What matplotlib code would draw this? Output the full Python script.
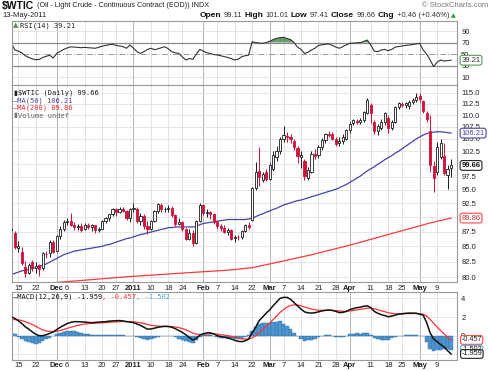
import numpy as np
import pandas as pd
import matplotlib
matplotlib.use('Agg')
import matplotlib.pyplot as plt
import matplotlib.transforms as mtransforms
from matplotlib.ticker import FixedLocator, FixedFormatter, NullLocator

W, H = 489, 371
FONT = ['Liberation Sans', 'DejaVu Sans']
MONO = ['DejaVu Sans Mono', 'DejaVu Sans']
plt.rcParams['font.family'] = FONT

# ---------------- data ----------------
holidays = ['2010-11-25', '2010-12-24', '2011-01-17', '2011-02-21', '2011-04-22']
dates = pd.bdate_range('2010-11-11', '2011-05-13')
dates = dates[~dates.isin(pd.to_datetime(holidays))]

opens = [87.9, 87.2,
         84.8, 84.0, 81.6, 80.7, 82.4,
         81.4, 81.9, 81.4, 83.8,
         83.9, 85.7, 84.2, 86.8, 88.0,
         89.2, 89.4, 88.7, 88.3, 88.4,
         87.9, 88.6, 88.3, 88.6, 87.7,
         88.0, 89.4, 89.8, 90.5,
         91.5, 91.0, 91.5, 91.1, 89.8,
         91.4, 91.5, 89.4, 90.2, 88.4,
         88.0, 89.3, 91.1, 92.2, 91.4,
         91.5, 91.6, 90.4, 88.9,
         89.1, 87.9, 86.2, 87.3, 85.6,
         89.3, 92.2, 90.8, 90.9, 90.5,
         89.2, 88.4, 88.2, 87.5, 87.8,
         86.4, 86.6, 86.5, 87.6, 88.6,
         89.5, 95.4, 98.6, 96.8,
         98.3, 97.1, 99.0, 101.3, 102.6,
         105.0, 105.6, 105.3, 104.6, 103.2,
         101.4, 100.6, 97.3, 98.4, 101.9,
         101.8, 103.3, 104.7, 106.0, 106.0,
         105.0, 104.1, 104.6, 105.0, 106.8,
         108.3, 108.7, 108.6, 109.0, 110.6,
         112.3, 108.6, 106.6, 107.3, 108.6,
         109.5, 107.2, 108.6, 111.9,
         112.5, 112.2, 112.0, 112.9, 113.4,
         114.3, 113.2, 110.6, 106.6, 99.6,
         98.4, 101.3, 101.6, 97.8, 99.11]
highs = [88.6, 87.6,
         85.9, 84.9, 82.6, 82.3, 82.8,
         82.4, 82.1, 84.1, 84.3,
         86.0, 86.1, 87.0, 88.4, 89.5,
         89.9, 90.8, 89.1, 88.9, 89.0,
         89.0, 89.0, 88.9, 88.7, 88.3,
         89.5, 90.0, 90.6, 91.6,
         91.6, 91.9, 91.9, 91.3, 91.6,
         92.6, 91.9, 90.8, 90.5, 89.4,
         89.6, 91.3, 92.6, 92.5, 91.9,
         92.2, 92.0, 90.6, 89.9,
         89.4, 88.2, 87.9, 87.8, 89.5,
         92.6, 92.4, 91.4, 91.2, 90.8,
         89.6, 88.9, 88.6, 88.1, 88.0,
         87.0, 87.0, 87.8, 88.9, 89.2,
         95.6, 100.3, 103.4, 98.4,
         99.0, 100.2, 102.5, 103.6, 105.4,
         107.6, 106.4, 106.0, 105.0, 103.6,
         102.6, 101.0, 99.3, 102.6, 103.0,
         103.7, 105.1, 106.3, 106.7, 106.4,
         105.4, 105.3, 106.0, 107.0, 108.6,
         109.1, 109.2, 109.4, 111.0, 113.9,
         112.7, 109.0, 108.1, 109.1, 110.8,
         110.0, 108.9, 112.1, 112.9,
         113.0, 113.0, 113.4, 113.8, 115.0,
         114.9, 113.4, 111.0, 110.0, 100.5,
         104.4, 105.0, 104.2, 99.7, 101.01]
lows = [86.9, 84.5,
        84.1, 81.9, 80.1, 80.5, 80.9,
        80.6, 80.2, 81.2, 83.0,
        83.3, 83.9, 84.1, 86.3, 87.6,
        88.7, 88.4, 87.7, 87.7, 87.5,
        87.7, 87.9, 87.6, 87.2, 87.4,
        87.9, 89.0, 89.4, 90.2,
        90.3, 90.7, 90.9, 89.6, 89.2,
        91.0, 89.0, 88.7, 87.9, 87.1,
        87.7, 89.1, 90.8, 91.0, 90.9,
        90.9, 90.0, 88.5, 88.6,
        87.6, 86.0, 86.0, 85.1, 85.4,
        89.1, 90.4, 90.1, 89.7, 88.9,
        88.0, 87.6, 87.2, 87.0, 86.0,
        85.8, 86.0, 86.3, 87.4, 87.9,
        89.3, 95.0, 95.8, 96.4,
        96.7, 96.9, 98.6, 100.6, 102.0,
        104.4, 104.3, 104.2, 102.8, 100.2,
        99.2, 96.9, 96.9, 98.2, 101.0,
        101.2, 102.8, 104.2, 105.4, 104.7,
        103.6, 103.5, 104.0, 104.8, 106.2,
        107.9, 108.1, 108.2, 108.6, 110.3,
        108.4, 106.1, 105.9, 106.8, 108.0,
        106.3, 106.8, 108.3, 111.4,
        111.7, 111.6, 111.4, 112.4, 113.0,
        112.9, 110.6, 108.6, 98.3, 94.6,
        97.8, 100.9, 97.9, 95.1, 97.41]
closes = [87.8, 84.9,
          85.0, 82.3, 80.6, 81.9, 81.5,
          81.7, 81.3, 83.9, 83.7,
          85.7, 84.1, 86.8, 88.0, 89.2,
          89.4, 88.7, 88.3, 88.4, 87.8,
          88.6, 88.3, 88.6, 87.7, 88.0,
          89.4, 89.8, 90.5, 91.5,
          91.0, 91.5, 91.1, 89.8, 91.4,
          91.6, 89.4, 90.3, 88.4, 88.0,
          89.3, 91.1, 92.3, 91.4, 91.5,
          91.6, 90.4, 88.9, 89.1,
          87.9, 86.2, 87.3, 85.6, 89.3,
          92.2, 90.8, 90.9, 90.5, 89.2,
          88.4, 88.2, 87.5, 87.8, 86.3,
          86.6, 86.5, 87.6, 88.6, 88.3,
          95.3, 98.4, 97.4, 98.0,
          97.1, 99.8, 101.8, 102.6, 105.0,
          105.8, 105.3, 105.0, 103.3, 101.6,
          101.7, 97.7, 98.8, 102.0, 101.5,
          103.3, 104.7, 106.0, 105.9, 105.0,
          104.0, 104.6, 105.3, 106.8, 108.2,
          108.9, 108.6, 109.0, 110.8, 113.3,
          110.4, 106.6, 107.7, 108.6, 110.4,
          107.3, 108.6, 111.8, 112.6,
          112.3, 112.6, 113.0, 113.4, 114.1,
          113.6, 111.0, 109.1, 99.8, 97.2,
          103.4, 104.1, 98.2, 99.0, 99.66]

ma50 = [80.4, 80.6, 80.8, 81.0, 81.1, 81.2, 81.4, 81.5, 81.7, 81.9, 82.1, 82.4, 82.7,
        83.0, 83.3, 83.6, 83.8, 84.0, 84.2, 84.3, 84.4, 84.5, 84.6, 84.7, 84.8, 84.9,
        85.0, 85.2, 85.3, 85.5, 85.7, 85.9, 86.1, 86.3, 86.4,
        86.6, 86.8, 87.0, 87.1, 87.3, 87.4, 87.6, 87.7, 87.9, 88.0,
        88.2, 88.2, 88.3, 88.3, 88.3, 88.3, 88.3, 88.3, 88.4,
        88.7, 88.9, 89.0, 89.1, 89.2, 89.3, 89.4, 89.5, 89.6, 89.6,
        89.6, 89.6, 89.6, 89.6, 89.7, 89.8, 90.1, 90.4, 90.6,
        90.9, 91.1, 91.4, 91.6, 91.9, 92.2, 92.4, 92.6, 92.8, 93.0,
        93.1, 93.3, 93.5, 93.7, 93.9, 94.1, 94.3, 94.5, 94.7, 94.9,
        95.1, 95.4, 95.7, 96.0, 96.4, 96.8, 97.2, 97.6, 98.1, 98.6,
        99.0, 99.4, 99.9, 100.3, 100.8, 101.2, 101.6, 102.1, 102.5,
        103.0, 103.5, 104.0, 104.5, 105.0, 105.4, 105.8, 106.1, 106.3, 106.4,
        106.5, 106.5, 106.4, 106.3, 106.21]

ma200_dates = ['2010-11-11', '2010-12-06', '2010-12-31', '2011-01-27', '2011-02-10',
               '2011-02-22', '2011-03-01', '2011-03-17', '2011-04-01', '2011-04-18',
               '2011-05-05', '2011-05-13']
ma200_vals = [78.6, 79.3, 80.1, 80.75, 81.1, 81.5, 82.1, 83.6, 85.2, 87.0, 89.0, 89.86]

rsi = [68.6, 57.0, 55.0, 52.0, 47.0, 44.0, 41.5, 40.0, 40.5, 44.0, 46.0, 48.0, 43.0,
       51.0, 54.5, 58.0, 60.5, 62.5, 62.0, 61.5, 61.0, 61.6, 61.0, 60.5, 60.0, 61.5,
       63.5, 65.0, 66.0, 67.0, 65.0, 64.0, 62.7, 60.0, 65.6,
       60.0, 54.0, 51.0, 54.0, 58.0, 60.0, 57.5, 59.0, 61.0, 62.7,
       59.0, 54.0, 52.0, 51.0, 45.0, 39.6, 42.0, 40.8, 50.0,
       58.0, 55.0, 52.3, 51.0, 49.0, 48.3, 47.0, 45.5, 44.0, 42.0,
       39.6, 41.0, 45.3, 47.0, 48.0, 71.4, 70.0, 69.0, 68.6,
       70.0, 72.0, 75.0, 77.3, 78.5, 79.0, 77.0, 75.0, 70.0, 62.0,
       58.0, 51.0, 53.0, 57.0, 60.0, 65.0, 66.0, 67.0, 67.4, 65.0,
       62.0, 60.0, 63.0, 66.0, 68.6, 69.0, 69.5, 69.7, 72.0, 74.3,
       65.6, 55.0, 54.0, 57.0, 58.0, 55.7, 58.0, 62.0, 63.0,
       64.0, 65.0, 65.6, 66.5, 67.5, 68.6, 57.0, 50.0, 39.6, 28.0,
       36.0, 39.6, 37.8, 38.5, 39.21]

macd = [2.0, 1.85, 1.6, 1.3, 0.95, 0.7, 0.4, 0.15, 0.0, 0.0, 0.1, 0.25, 0.4,
        0.65, 0.9, 1.1, 1.3, 1.42, 1.5, 1.5, 1.48, 1.45, 1.42, 1.39, 1.42, 1.45,
        1.48, 1.5, 1.55, 1.58, 1.6, 1.62, 1.58, 1.5, 1.45,
        1.4, 1.25, 1.1, 0.9, 0.7, 0.72, 0.8, 0.9, 0.96, 1.0,
        0.98, 0.9, 0.75, 0.55, 0.35, 0.1, -0.2, -0.46, -0.3,
        0.05, 0.2, 0.3, 0.3, 0.2, 0.0, -0.1, -0.15, -0.25, -0.35,
        -0.5, -0.6, -0.64, -0.55, -0.35, 0.3, 0.9, 1.6, 2.0,
        2.4, 2.75, 3.2, 3.6, 4.0, 4.1, 4.1, 3.9, 3.55, 3.2,
        2.85, 2.55, 2.45, 2.42, 2.46, 2.55, 2.65, 2.72, 2.75, 2.7,
        2.6, 2.46, 2.5, 2.6, 2.8, 2.9, 3.0, 3.05, 3.15, 3.2,
        3.0, 2.6, 2.4, 2.25, 2.15, 2.03, 2.1, 2.2, 2.3,
        2.35, 2.4, 2.42, 2.42, 2.4, 2.3, 2.21, 1.4, 0.3, -0.35,
        -0.64, -0.95, -1.2, -1.6, -1.959]

signal = [1.72, 1.72, 1.7, 1.62, 1.5, 1.35, 1.2, 1.0, 0.8, 0.62, 0.5, 0.45, 0.44,
          0.48, 0.56, 0.66, 0.78, 0.9, 1.0, 1.1, 1.18, 1.24, 1.28, 1.31, 1.33, 1.36,
          1.38, 1.4, 1.43, 1.46, 1.48, 1.5, 1.52, 1.52, 1.5,
          1.48, 1.44, 1.38, 1.3, 1.2, 1.12, 1.06, 1.03, 1.0, 1.0,
          1.0, 0.98, 0.93, 0.86, 0.76, 0.63, 0.47, 0.28, 0.16,
          0.14, 0.15, 0.18, 0.2, 0.2, 0.16, 0.11, 0.06, 0.0, -0.07,
          -0.16, -0.25, -0.33, -0.37, -0.37, -0.23, 0.0, 0.32, 0.65,
          1.0, 1.35, 1.72, 2.1, 2.48, 2.8, 3.06, 3.23, 3.3, 3.28,
          3.2, 3.07, 2.95, 2.85, 2.77, 2.73, 2.71, 2.7, 2.71, 2.71,
          2.69, 2.64, 2.61, 2.61, 2.65, 2.7, 2.76, 2.82, 2.88, 2.94,
          2.95, 2.88, 2.78, 2.67, 2.57, 2.46, 2.39, 2.35, 2.34,
          2.34, 2.35, 2.36, 2.37, 2.38, 2.36, 2.29, 2.11, 1.74, 1.32,
          0.93, 0.55, 0.2, -0.16, -0.457]

tick_dates = ['2010-11-15', '2010-11-22', '2010-12-01', '2010-12-06', '2010-12-13',
              '2010-12-20', '2010-12-27', '2011-01-03', '2011-01-10', '2011-01-18',
              '2011-01-24', '2011-02-01', '2011-02-07', '2011-02-14', '2011-02-22',
              '2011-03-01', '2011-03-07', '2011-03-14', '2011-03-21', '2011-03-28',
              '2011-04-01', '2011-04-11', '2011-04-18', '2011-04-25', '2011-05-02',
              '2011-05-09']
tick_labels = ['15', '22', 'Dec', '6', '13', '20', '27', '2011', '10', '18', '24',
               'Feb', '7', '14', '22', 'Mar', '7', '14', '21', '28', 'Apr', '11',
               '18', '25', 'May', '9']
month_labels = ['Dec', '2011', 'Feb', 'Mar', 'Apr', 'May']

price_ticks = [80.0, 82.5, 85.0, 87.5, 90.0, 92.5, 95.0, 97.5, 100.0, 102.5,
               105.0, 107.5, 110.0, 112.5, 115.0]
# 90.0 and 100.0 are hidden behind the value tags in the reference
price_tick_labels = ['80.0', '82.5', '85.0', '87.5', '', '92.5', '95.0', '97.5', '',
                     '102.5', '105.0', '107.5', '110.0', '112.5', '115.0']
rsi_ticks = [10, 30, 50, 70, 90]
macd_ticks = [0, 2, 4]

# ---------------- figure ----------------
O = np.array(opens); Hh = np.array(highs); L = np.array(lows); C = np.array(closes)
n = len(dates)
x = np.arange(n)
tick_pos = dates.get_indexer(pd.to_datetime(tick_dates))
ma200_pos = dates.get_indexer(pd.to_datetime(ma200_dates))

fig = plt.figure(figsize=(W / 100, H / 100), dpi=100)
fig.patch.set_facecolor('white')


def axpos(l, t, r, b):
    return [l / W, 1 - b / H, (r - l) / W, (b - t) / H]


ax_rsi = fig.add_axes(axpos(12, 21, 457, 85))
ax_px = fig.add_axes(axpos(12, 85, 457, 282), sharex=ax_rsi)
ax_m = fig.add_axes(axpos(12, 291.5, 457, 359.5), sharex=ax_rsi)

XL = (0.19, 127.7)
WEEK_C = '#e2e2e2'
MON_C = '#b4b4b4'
RED = '#d0103a'
BLUE_MA = '#4545a8'
RED_MA = '#ff3a3a'

for ax in (ax_rsi, ax_px, ax_m):
    ax.set_xlim(*XL)
    for s in ax.spines.values():
        s.set_color('#9a9a9a')
        s.set_linewidth(0.8)
    for p, lab in zip(tick_pos, tick_labels):
        ax.axvline(p, color=MON_C if lab in month_labels else WEEK_C,
                   lw=0.7, zorder=0.5)
    ax.yaxis.tick_right()
    ax.tick_params(axis='y', length=0, pad=3, labelsize=5.5, colors='#222222')
    ax.tick_params(axis='x', length=0, pad=2, labelsize=5.5, colors='#222222')
    ax.set_xticks(tick_pos)
    ax.set_xticklabels(tick_labels)

# ---- RSI panel ----
ax_rsi.set_ylim(-3.9, 107.4)
ax_rsi.set_yticks(rsi_ticks)
for v in (10, 90):
    ax_rsi.axhline(v, color=WEEK_C, lw=0.6, zorder=0.6)
ax_rsi.axhline(70, color='#8a8a8a', lw=0.9, zorder=1)
ax_rsi.axhline(30, color='#8a8a8a', lw=0.9, zorder=1)
ax_rsi.axhline(50, color='#9a9a9a', lw=0.7, ls=(0, (6, 2, 1, 2)), zorder=1)
r = np.array(rsi)
ax_rsi.fill_between(x, r, 70, where=r > 70, interpolate=True, color='#6d9a6d', zorder=1.5, lw=0)
ax_rsi.fill_between(x, r, 30, where=r < 30, interpolate=True, color='#6d9a6d', zorder=1.5, lw=0)
ax_rsi.plot(x, r, color='#333333', lw=0.8, zorder=2)
ax_rsi.tick_params(axis='x', labelbottom=False)

# ---- price panel ----
ax_px.set_yscale('log')
ax_px.set_ylim(79.24, 116.75)
ax_px.yaxis.set_major_locator(FixedLocator(price_ticks))
ax_px.yaxis.set_major_formatter(FixedFormatter(price_tick_labels))
ax_px.yaxis.set_minor_locator(NullLocator())
for v in price_ticks:
    ax_px.axhline(v, color=WEEK_C, lw=0.6, zorder=0.6)

ax_px.plot(x, ma50, color=BLUE_MA, lw=0.9, zorder=2)
ax_px.plot(ma200_pos, ma200_vals, color=RED_MA, lw=0.9, zorder=2)

prev = np.concatenate([[C[0]], C[:-1]])
cols = np.where(C < prev, RED, '#1a1a1a')
cols[0] = '#1a1a1a'
ax_px.vlines(x, L, Hh, colors=cols, lw=0.7, zorder=3)
bw = 0.62
for i in range(n):
    lo = min(O[i], C[i]); hi = max(O[i], C[i])
    if hi - lo < 0.08:
        hi = lo + 0.08
    filled = C[i] < O[i]
    ax_px.bar(x[i], hi - lo, bottom=lo, width=bw,
              facecolor=cols[i] if filled else 'white',
              edgecolor=cols[i], lw=0.6, zorder=4)
ax_px.tick_params(axis='x', labelbottom=True)

# ---- MACD panel ----
mc = np.array(macd); sg = np.array(signal)
hist = mc - sg
ax_m.set_ylim(-2.55, 4.73)
ax_m.set_yticks(macd_ticks)
for v in (-2, 0, 2, 4):
    ax_m.axhline(v, color=WEEK_C, lw=0.6, zorder=0.6)
ax_m.bar(x, hist, width=1.0, color='#4d96cf', edgecolor='#2f6ea6', lw=0.3, zorder=1.5)
ax_m.plot(x, sg, color='#ff3333', lw=0.9, zorder=2)
ax_m.plot(x, mc, color='#111111', lw=1.1, zorder=3)
ax_m.tick_params(axis='x', labelbottom=True)

for ax in (ax_px, ax_m):
    for t in ax.get_xticklabels():
        if t.get_text() in month_labels:
            t.set_fontweight('bold')

# ---- value tags ----
def tag(ax, yv, text, edge, tcol, weight='normal', fs=5.5, pad=0.18):
    tr = mtransforms.blended_transform_factory(ax.transAxes, ax.transData)
    ax.text(1.01, yv, text, transform=tr, ha='left', va='center', fontsize=fs,
            color=tcol, fontweight=weight, clip_on=False, zorder=20,
            bbox=dict(boxstyle='round,pad=%.2f,rounding_size=0.3' % pad, fc='white',
                      ec=edge, lw=0.8))

tag(ax_rsi, rsi[-1], '39.21', '#5a9a5a', '#333333')
tag(ax_px, ma50[-1], '106.21', '#4545a8', '#4545a8')
tag(ax_px, closes[-1], '99.66', '#222222', '#111111', 'bold')
tag(ax_px, ma200_vals[-1], '89.86', '#ff4a4a', '#d03030')
tag(ax_m, signal[-1], '-0.457', '#ff4a4a', '#222222', fs=5.2, pad=0.12)
tag(ax_m, hist[-1], '-1.502', '#55b0e8', '#222222', fs=5.2, pad=0.12)
tag(ax_m, macd[-1], '-1.959', '#222222', '#111111', fs=5.2, pad=0.12)

# ---- text helpers ----
renderer = fig.canvas.get_renderer()
ID = mtransforms.IdentityTransform()


def row(pieces, x0, y0, align='left', gap=2.5):
    objs = []
    for txt, kw in pieces:
        t = fig.text(0, H - y0, txt, transform=ID, ha='left', va='center', **kw)
        objs.append(t)
    widths = [t.get_window_extent(renderer).width for t in objs]
    total = sum(widths) + gap * (len(objs) - 1)
    cx = x0 if align == 'left' else x0 - total
    for t, w in zip(objs, widths):
        t.set_x(cx)
        cx += w + gap


# header
row([(r'\$WTIC', dict(fontsize=7.5, fontweight='bold', color='#111111')),
     ('(Oil - Light Crude - Continuous Contract (EOD)) INDX',
      dict(fontsize=5.2, color='#222222'))], 2, 5.5)
row([('© StockCharts.com', dict(fontsize=5.5, color='#777777'))], 488, 5.5, align='right')
row([('13-May-2011', dict(fontsize=5.5, color='#222222'))], 2, 15.5)
B = dict(fontsize=6, fontweight='bold', color='#111111')
Nn = dict(fontsize=5.5, color='#333333')
row([('Open', B), ('99.11', Nn), ('High', B), ('101.01', Nn), ('Low', B), ('97.41', Nn),
     ('Close', B), ('99.66', Nn), ('Chg', B), ('+0.46 (+0.46%)', Nn),
     ('▲', dict(fontsize=4.5, color='#2e9a2e', family=['DejaVu Sans']))],
    456, 15.5, align='right', gap=2.2)

# panel legends
M5 = dict(fontsize=5.0, family=MONO)
row([('▲', dict(fontsize=5, color='#5a8a5a', family=['DejaVu Sans'])),
     ('RSI(14) 39.21', dict(color='#222222', **M5))], 13, 25.5, gap=1.5)
row([('▮', dict(fontsize=5, color='#222222', family=['DejaVu Sans'])),
     (r'\$WTIC (Daily) 99.66', dict(color='#222222', **M5))], 13, 93.0, gap=1.5)
row([('—MA(50) 106.21', dict(color=BLUE_MA, **M5))], 13, 100.5)
row([('—MA(200) 89.86', dict(color='#ee2a2a', **M5))], 13, 108.0)
row([('▮', dict(fontsize=5, color='#777777', family=['DejaVu Sans'])),
     ('Volume undef', dict(color='#666666', **M5))], 13, 115.5, gap=1.0)
row([('—MACD(12,26,9) -1.959', dict(color='#111111', **M5)),
     (', -0.457', dict(color='#ff3333', **M5)),
     (', -1.502', dict(color='#4aa3df', **M5))], 13, 296.5, gap=0)

fig.savefig('out.png', dpi=100, facecolor='white')
